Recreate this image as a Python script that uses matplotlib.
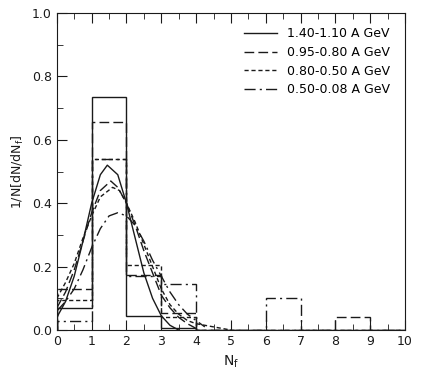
import matplotlib.pyplot as plt
from matplotlib.ticker import MultipleLocator, FormatStrFormatter

# histogram bins (N_f = 0..10)
edges = [0, 1, 2, 3, 4, 5, 6, 7, 8, 9, 10]
hist_a = [0.07, 0.735, 0.045, 0.005, 0, 0, 0, 0, 0, 0]       # 1.40-1.10
hist_b = [0.13, 0.655, 0.175, 0.055, 0, 0, 0, 0, 0.04, 0]    # 0.95-0.80
hist_c = [0.095, 0.54, 0.205, 0.04, 0, 0, 0, 0, 0, 0]        # 0.80-0.50
hist_d = [0.03, 0.54, 0.17, 0.145, 0, 0, 0.1, 0, 0, 0]       # 0.50-0.08

# fitted curves
curve_a_x = [0, 0.25, 0.5, 0.75, 1.0, 1.25, 1.45, 1.75, 2.0, 2.25, 2.5, 2.75, 3.0, 3.25, 3.5]
curve_a_y = [0.04, 0.09, 0.17, 0.28, 0.40, 0.49, 0.52, 0.49, 0.40, 0.29, 0.18, 0.10, 0.045, 0.015, 0.0]
curve_b_x = [0, 0.25, 0.5, 0.75, 1.0, 1.25, 1.55, 1.75, 2.0, 2.25, 2.5, 2.75, 3.0, 3.25, 3.5, 3.75, 4.0]
curve_b_y = [0.07, 0.12, 0.19, 0.28, 0.37, 0.44, 0.47, 0.45, 0.40, 0.33, 0.25, 0.18, 0.11, 0.07, 0.04, 0.02, 0.005]
curve_c_x = [0, 0.25, 0.5, 0.75, 1.0, 1.25, 1.6, 1.8, 2.0, 2.25, 2.5, 2.75, 3.0, 3.25, 3.5, 3.75, 4.0, 4.5, 5.0]
curve_c_y = [0.10, 0.15, 0.21, 0.29, 0.36, 0.42, 0.45, 0.44, 0.40, 0.34, 0.27, 0.20, 0.13, 0.08, 0.05, 0.03, 0.02, 0.01, 0.0]
curve_d_x = [0, 0.25, 0.5, 0.75, 1.0, 1.25, 1.5, 1.75, 2.0, 2.25, 2.5, 2.75, 3.0, 3.25, 3.5, 3.75, 4.0, 4.25]
curve_d_y = [0.06, 0.09, 0.13, 0.19, 0.26, 0.32, 0.36, 0.37, 0.36, 0.33, 0.28, 0.22, 0.17, 0.12, 0.08, 0.05, 0.03, 0.01]

labels = ["1.40-1.10 A GeV", "0.95-0.80 A GeV", "0.80-0.50 A GeV", "0.50-0.08 A GeV"]
styles = ['-', (0, (7, 3)), (0, (3, 2)), (0, (8, 3, 1.5, 3))]
col = '#1a1a1a'

fig = plt.figure(figsize=(4.21, 3.82), dpi=100)
ax = fig.add_axes([0.135, 0.136, 0.827, 0.830])

hists = [hist_a, hist_b, hist_c, hist_d]
curves = [(curve_a_x, curve_a_y), (curve_b_x, curve_b_y),
          (curve_c_x, curve_c_y), (curve_d_x, curve_d_y)]

for h, (cx, cy), ls, lab in zip(hists, curves, styles, labels):
    ax.stairs(h, edges, color=col, lw=1.0, linestyle=ls, baseline=0)
    ax.plot(cx, cy, color=col, lw=1.0, linestyle=ls, label=lab)

ax.set_xlim(0, 10)
ax.set_ylim(0, 1.0)
ax.xaxis.set_major_locator(MultipleLocator(1))
ax.xaxis.set_minor_locator(MultipleLocator(0.5))
ax.yaxis.set_major_locator(MultipleLocator(0.2))
ax.yaxis.set_minor_locator(MultipleLocator(0.1))
ax.yaxis.set_major_formatter(FormatStrFormatter('%.1f'))
ax.tick_params(which='both', direction='in', top=True, right=False, labelsize=9, colors=col)
ax.tick_params(which='major', length=7)
ax.tick_params(which='minor', length=4)
for s in ax.spines.values():
    s.set_color(col)

ax.set_xlabel(r'N$_\mathregular{f}$', fontsize=10, color=col)
ax.set_ylabel(r'1/N[dN/dN$_\mathregular{f}$]', fontsize=9, color=col)

ax.legend(loc='upper right', frameon=False, fontsize=9, handlelength=2.7,
          labelspacing=0.45, bbox_to_anchor=(0.99, 0.99))

fig.savefig('out.png', dpi=100)
